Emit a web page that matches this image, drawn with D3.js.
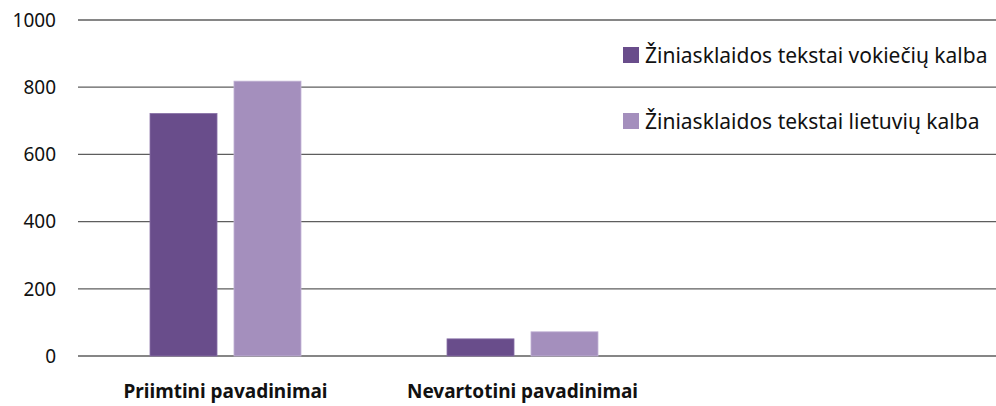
<!DOCTYPE html>
<html>
<head>
<meta charset="utf-8">
<script src="https://cdn.jsdelivr.net/npm/d3@7"></script>
<style>
  body { margin: 0; background: #fff; }
  svg { display: block; font-family: "Noto Sans", "Open Sans", sans-serif; }
</style>
</head>
<body>
<svg width="996" height="406"></svg>
<script>
// values
var categories = ['Priimtini pavadinimai', 'Nevartotini pavadinimai'];
var seriesNames = ['Žiniasklaidos tekstai vokiečių kalba', 'Žiniasklaidos tekstai lietuvių kalba'];
var germanValues = [722, 51];
var lithuanianValues = [818, 72];
var yTicks = [0, 200, 400, 600, 800, 1000];
var colors = ['#694d8b', '#a48fbd'];

var series = [germanValues, lithuanianValues];

var plotLeft = 78, plotRight = 996, plotTop = 20, plotBottom = 356;

var svg = d3.select('svg');

var y = d3.scaleLinear().domain([0, 1000]).range([plotBottom, plotTop]);
var x0 = d3.scaleBand().domain(categories).range([77, 671]).padding(0);
var x1 = d3.scaleBand().domain(seriesNames).range([73, 224]).paddingInner(0.202).paddingOuter(0);

// gridlines
svg.append('g')
  .selectAll('line')
  .data(yTicks)
  .enter()
  .append('line')
    .attr('x1', plotLeft)
    .attr('x2', plotRight)
    .attr('y1', d => y(d))
    .attr('y2', d => y(d))
    .attr('stroke', '#5e5e5e')
    .attr('stroke-width', 1.3);

// y labels
svg.append('g')
  .selectAll('text')
  .data(yTicks)
  .enter()
  .append('text')
    .attr('x', 56)
    .attr('y', d => y(d))
    .attr('dy', '0.36em')
    .attr('text-anchor', 'end')
    .attr('font-size', 19)
    .attr('fill', '#111')
    .text(d => d);

// bars
var groups = svg.append('g')
  .selectAll('g')
  .data(categories)
  .enter()
  .append('g')
    .attr('transform', d => 'translate(' + x0(d) + ',0)');

groups.selectAll('rect')
  .data((d, i) => seriesNames.map((s, j) => ({ name: s, value: series[j][i], k: j })))
  .enter()
  .append('rect')
    .attr('x', d => x1(d.name))
    .attr('width', x1.bandwidth())
    .attr('y', d => y(d.value))
    .attr('height', d => y(0) - y(d.value))
    .attr('fill', d => colors[d.k])
    .attr('stroke', d => d.k === 0 ? '#8a72a8' : '#c2b3d6')
    .attr('stroke-width', 0.8);

// category labels, centred under each pair of bars
svg.append('g')
  .selectAll('text')
  .data(categories)
  .enter()
  .append('text')
    .attr('x', d => x0(d) + x1.range()[0] + (x1.range()[1] - x1.range()[0]) / 2)
    .attr('y', 398)
    .attr('text-anchor', 'middle')
    .attr('font-size', 19)
    .attr('font-weight', 'bold')
    .attr('fill', '#111')
    .text(d => d);

// legend
var legend = svg.append('g')
  .selectAll('g')
  .data(seriesNames)
  .enter()
  .append('g')
    .attr('transform', (d, i) => 'translate(623,' + (55 + i * 66) + ')');

legend.append('rect')
  .attr('x', 0)
  .attr('y', -8)
  .attr('width', 16)
  .attr('height', 16)
  .attr('fill', (d, i) => colors[i]);

legend.append('text')
  .attr('x', 22)
  .attr('y', 0)
  .attr('dy', '0.36em')
  .attr('font-size', 21)
  .attr('fill', '#111')
  .text(d => d);
</script>
</body>
</html>
